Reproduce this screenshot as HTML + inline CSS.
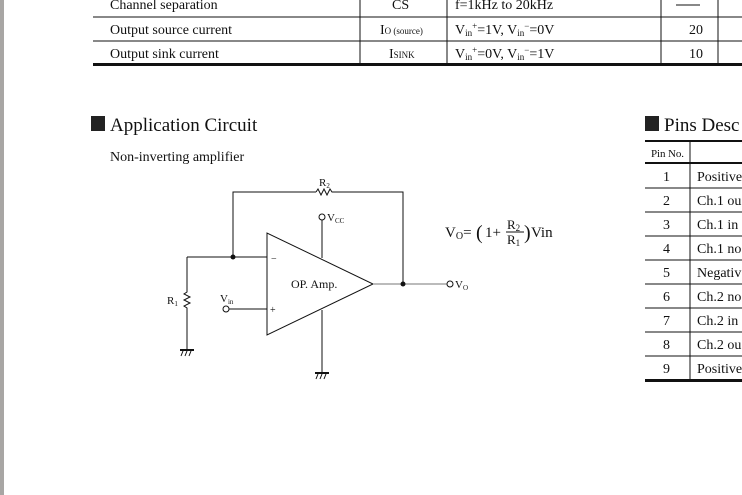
<!DOCTYPE html>
<html><head><meta charset="utf-8"><style>
body{margin:0;width:742px;height:495px;overflow:hidden;background:#fff;font-family:"Liberation Serif",serif;position:relative;color:#111}
.t{position:absolute;white-space:nowrap}
</style></head><body>
<div style="position:absolute;left:0;top:0;width:4px;height:495px;background:#a8a6a4"></div>
<svg width="742" height="495" style="position:absolute;left:0;top:0" font-family="Liberation Serif, serif" fill="#111">
<!-- top table -->
<g stroke="#111" stroke-width="1">
<line x1="93" y1="17" x2="742" y2="17"/><line x1="93" y1="41" x2="742" y2="41"/>
<line x1="360" y1="0" x2="360" y2="65"/><line x1="447" y1="0" x2="447" y2="65"/>
<line x1="661" y1="0" x2="661" y2="65"/><line x1="718" y1="0" x2="718" y2="65"/>
</g>
<rect x="93" y="63" width="649" height="3" fill="#111"/>
<text x="110" y="9" font-size="14">Channel separation</text>
<text x="392" y="9" font-size="14">CS</text>
<text x="455" y="9" font-size="14">f=1kHz to 20kHz</text>
<line x1="676" y1="5" x2="700" y2="5" stroke="#111"/>
<text x="110" y="34" font-size="14">Output source current</text>
<text x="380" y="34" font-size="14">I<tspan font-size="9">O (source)</tspan></text>
<text x="455" y="34" font-size="14">V<tspan font-size="9" dy="2">in</tspan><tspan font-size="9" dy="-7">+</tspan><tspan dy="5">=1V, V</tspan><tspan font-size="9" dy="2">in</tspan><tspan font-size="9" dy="-7">−</tspan><tspan dy="5">=0V</tspan></text>
<text x="689" y="34" font-size="14">20</text>
<text x="110" y="58" font-size="14">Output sink current</text>
<text x="389" y="58" font-size="14">I<tspan font-size="9">SINK</tspan></text>
<text x="455" y="58" font-size="14">V<tspan font-size="9" dy="2">in</tspan><tspan font-size="9" dy="-7">+</tspan><tspan dy="5">=0V, V</tspan><tspan font-size="9" dy="2">in</tspan><tspan font-size="9" dy="-7">−</tspan><tspan dy="5">=1V</tspan></text>
<text x="689" y="58" font-size="14">10</text>
<!-- headings -->
<rect x="91" y="116" width="14" height="15" fill="#222"/>
<text x="110" y="131" font-size="19">Application Circuit</text>
<text x="110" y="161" font-size="14">Non-inverting amplifier</text>
<rect x="645" y="116" width="14" height="15" fill="#222"/>
<text x="664" y="131" font-size="19">Pins Desc</text>
<!-- pins table -->
<rect x="645" y="140" width="97" height="2" fill="#111"/>
<rect x="645" y="162" width="97" height="2" fill="#111"/>
<rect x="645" y="379" width="97" height="3" fill="#111"/>
<line x1="690" y1="141" x2="690" y2="380" stroke="#111"/>
<g stroke="#111"><line x1="645" y1="188" x2="742" y2="188"/><line x1="645" y1="212" x2="742" y2="212"/><line x1="645" y1="236" x2="742" y2="236"/><line x1="645" y1="260" x2="742" y2="260"/><line x1="645" y1="284" x2="742" y2="284"/><line x1="645" y1="308" x2="742" y2="308"/><line x1="645" y1="332" x2="742" y2="332"/><line x1="645" y1="356" x2="742" y2="356"/></g>
<text x="651" y="157" font-size="11" textLength="33">Pin No.</text>
<g font-size="14"><text x="663" y="181">1</text><text x="663" y="205">2</text><text x="663" y="229">3</text><text x="663" y="253">4</text><text x="663" y="277">5</text><text x="663" y="301">6</text><text x="663" y="325">7</text><text x="663" y="349">8</text><text x="663" y="373">9</text>
<text x="697" y="181">Positive</text><text x="697" y="205">Ch.1 ou</text><text x="697" y="229">Ch.1 in</text><text x="697" y="253">Ch.1 no</text><text x="697" y="277">Negativ</text><text x="697" y="301">Ch.2 no</text><text x="697" y="325">Ch.2 in</text><text x="697" y="349">Ch.2 ou</text><text x="697" y="373">Positive</text></g>
<!-- circuit -->
<g stroke="#111" stroke-width="1" fill="none">
<polyline points="233,257 233,192 316,192"/>
<polyline points="316,192 318,189 321,195 324,189 327,195 330,189 332,192 403,192 403,284"/>
<polygon points="267,233 267,335 373,284"/>
<line x1="187" y1="257" x2="267" y2="257"/>
<polyline points="187,257 187,292 184,294 190,297 184,300 190,303 184,306 187,308 187,349"/>
<line x1="229" y1="309" x2="267" y2="309"/>
<circle cx="226" cy="309" r="3"/>
<line x1="322" y1="220" x2="322" y2="258"/>
<circle cx="322" cy="217" r="3"/>
<line x1="322" y1="310" x2="322" y2="372"/>
<line x1="373" y1="284" x2="447" y2="284" stroke="#777"/>
<circle cx="450" cy="284" r="3"/>
<line x1="180" y1="350" x2="194" y2="350" stroke-width="2"/>
<line x1="315" y1="373" x2="329" y2="373" stroke-width="2"/>
<path d="M183,351 l-2,5 M187,351 l-2,5 M191,351 l-2,5 M318,374 l-2,5 M322,374 l-2,5 M326,374 l-2,5"/>
</g>
<circle cx="233" cy="257" r="2.5"/><circle cx="403" cy="284" r="2.5"/>
<text x="271" y="262" font-size="10">−</text>
<text x="270" y="313" font-size="10">+</text>
<text x="291" y="288" font-size="12">OP. Amp.</text>
<text x="319" y="186" font-size="11">R<tspan font-size="7" dy="2">2</tspan></text>
<text x="167" y="304" font-size="11">R<tspan font-size="7" dy="2">1</tspan></text>
<text x="220" y="302" font-size="11">V<tspan font-size="7" dy="2">in</tspan></text>
<text x="327" y="221" font-size="11">V<tspan font-size="7" dy="2">CC</tspan></text>
<text x="455" y="288" font-size="11">V<tspan font-size="7" dy="2">O</tspan></text>
<text x="445" y="237" font-size="15">V<tspan font-size="10" dy="2">O</tspan><tspan dy="-2">=</tspan></text>
<text x="476" y="239" font-size="20" transform="scale(1,1)">(</text>
<text x="485" y="237" font-size="15">1+</text>
<text x="507" y="229" font-size="13">R<tspan font-size="9" dy="2">2</tspan></text>
<line x1="506" y1="232" x2="524" y2="232" stroke="#111"/>
<text x="507" y="244" font-size="13">R<tspan font-size="9" dy="2">1</tspan></text>
<text x="524" y="239" font-size="20">)</text>
<text x="531" y="237" font-size="15">Vin</text>
</svg>
</body></html>
